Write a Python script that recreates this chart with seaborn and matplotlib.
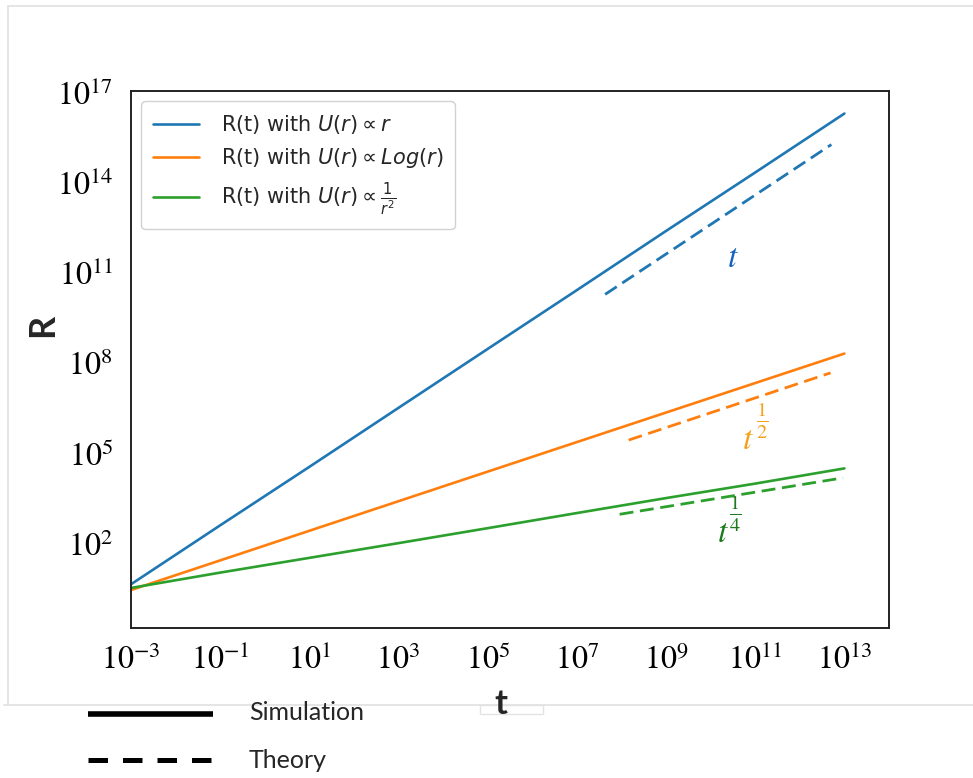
import matplotlib
matplotlib.use("Agg")
import numpy as np
import matplotlib.pyplot as plt
from matplotlib.lines import Line2D
from matplotlib.patches import Rectangle
from matplotlib.ticker import FixedLocator, NullLocator, FuncFormatter
import seaborn as sns
import pandas as pd

# ---- simulated radius growth R(t) for three interaction potentials ----
t_sim = [1e-3, 1e-1, 1e1, 1e3, 1e5, 1e7, 1e9, 1e11, 1e13]
R_linear = [4.5, 4.1e2, 3.6e4, 3.3e6, 3.0e8, 2.7e10, 2.5e12, 2.2e14, 2.0e16]
R_log = [2.9, 2.8e1, 2.7e2, 2.6e3, 2.5e4, 2.4e5, 2.3e6, 2.2e7, 2.1e8]
R_inv = [3.4, 1.1e1, 3.4e1, 1.05e2, 3.3e2, 1.05e3, 3.3e3, 1.0e4, 3.2e4]

# ---- theoretical power laws (dashed guides) ----
t_th_linear = [4.3e7, 5.1e12]
R_th_linear = [1.95e10, 1.86e15]
t_th_log = [1.45e8, 4.9e12]
R_th_log = [2.8e5, 4.8e7]
t_th_inv = [9.1e7, 9.3e12]
R_th_inv = [9.55e2, 1.55e4]

series_labels = [r"R(t) with $U(r) \propto r$",
                 r"R(t) with $U(r) \propto Log(r)$",
                 r"R(t) with $U(r) \propto \frac{1}{r^2}$"]
exponent_fracs = [None, r"$\frac{1}{2}$", r"$\frac{1}{4}$"]
x_ticks = [1e-3, 1e-1, 1e1, 1e3, 1e5, 1e7, 1e9, 1e11, 1e13]
y_ticks = [1e2, 1e5, 1e8, 1e11, 1e14, 1e17]

sns.set_style("white")
plt.rcParams["font.family"] = ["DejaVu Sans"]
plt.rcParams["mathtext.fontset"] = "stix"

colors = ["#1f77b4", "#ff7f0e", "#2ca02c"]
text_colors = ["#1560bd", "#f4a21c", "#1c7a1c"]

W, H = 973, 778
fig = plt.figure(figsize=(W / 100, H / 100), dpi=100)
ax = fig.add_axes([131 / W, 1 - 628 / H, (889 - 131) / W, (628 - 91) / H])

sim = [R_linear, R_log, R_inv]
theory = [(t_th_linear, R_th_linear), (t_th_log, R_th_log), (t_th_inv, R_th_inv)]

for R, lab, c in zip(sim, series_labels, colors):
    df = pd.DataFrame({"t": t_sim, "R": R})
    sns.lineplot(data=df, x="t", y="R", ax=ax, color=c, lw=1.9, label=lab)

for (tt, RR), c in zip(theory, colors):
    df = pd.DataFrame({"t": tt, "R": RR})
    sns.lineplot(data=df, x="t", y="R", ax=ax, color=c, lw=2.0,
                 linestyle=(0, (5.0, 2.4)), legend=False)

ax.set_xscale("log")
ax.set_yscale("log")
ax.set_xlim(1e-3, 1e14)
ax.set_ylim(10 ** -0.8, 10 ** 17.05)
ax.xaxis.set_major_locator(FixedLocator(x_ticks))
ax.yaxis.set_major_locator(FixedLocator(y_ticks))
ax.xaxis.set_minor_locator(NullLocator())
ax.yaxis.set_minor_locator(NullLocator())
pow10 = FuncFormatter(lambda v, p: r"$10^{%d}$" % int(round(np.log10(v))))
ax.xaxis.set_major_formatter(pow10)
ax.yaxis.set_major_formatter(pow10)
ax.tick_params(axis="both", which="major", direction="out", length=5,
               width=1.2, color="#333333", labelsize=23, labelcolor="black")
ax.tick_params(axis="x", pad=7)
ax.tick_params(axis="y", pad=8)
ax.set_xlabel("")
ax.set_ylabel("")
for s in ax.spines.values():
    s.set_color("#222222")
    s.set_linewidth(1.4)

# exponent annotations next to the theory guides (base "t" plus fractional power)
t_pos = [(10 ** 10.5, 10 ** 11.53), (10 ** 10.83, 10 ** 5.46), (10 ** 10.28, 10 ** 2.37)]
frac_pos = [None, (10 ** 11.16, 10 ** 6.1), (10 ** 10.54, 10 ** 2.99)]
for (x, y), fpos, frac, c in zip(t_pos, frac_pos, exponent_fracs, text_colors):
    ax.text(x, y, r"$t$", color=c, fontsize=24, ha="center", va="center")
    if frac is not None:
        ax.text(fpos[0], fpos[1], frac, color=c, fontsize=21,
                ha="center", va="center")

leg = ax.legend(loc="upper left", fontsize=15, handlelength=2.2,
                borderpad=0.55, labelspacing=0.5, handletextpad=1.05,
                frameon=True, fancybox=True, edgecolor="#cccccc", framealpha=0.9)
for txt in leg.get_texts():
    txt.set_math_fontfamily("dejavusans")
    txt.set_color("#262626")

# outer light frame
fx = lambda px: px / W
fy = lambda py: 1 - py / H
frame_kw = dict(color="#e3e3e3", lw=1.3, transform=fig.transFigure)
fig.add_artist(Line2D([fx(8), 1], [fy(6), fy(6)], **frame_kw))
fig.add_artist(Line2D([fx(8), fx(8)], [fy(6), fy(705)], **frame_kw))
fig.add_artist(Line2D([fx(4), 1], [fy(705), fy(705)], **frame_kw))
fig.add_artist(Rectangle((fx(480), fy(714)), fx(543) - fx(480), fy(705) - fy(714),
                         transform=fig.transFigure, facecolor="white",
                         edgecolor="#e3e3e3", lw=1.0, zorder=5))

# axis labels
fig.text(fx(501), fy(704), "t", fontsize=25, family="Lato", weight="bold",
         ha="center", va="center", zorder=6)
fig.text(fx(43), fy(325), "R", fontsize=26, family="Lato", weight="bold",
         rotation=90, ha="center", va="center")

# line-style key below the plot
fig.add_artist(Line2D([fx(88), fx(213)], [fy(714), fy(714)], color="black",
                      lw=4.0, solid_capstyle="butt", transform=fig.transFigure))
fig.add_artist(Line2D([fx(88), fx(213)], [fy(760), fy(760)], color="black",
                      lw=3.6, linestyle=(0, (3.9, 3.0)), dash_capstyle="butt",
                      transform=fig.transFigure))
fig.text(fx(249), fy(713), "Simulation", fontsize=18, family="Lato",
         ha="left", va="center")
fig.text(fx(249), fy(760), "Theory", fontsize=18, family="Lato",
         ha="left", va="center")

fig.savefig("out.png", dpi=100, facecolor="white")
